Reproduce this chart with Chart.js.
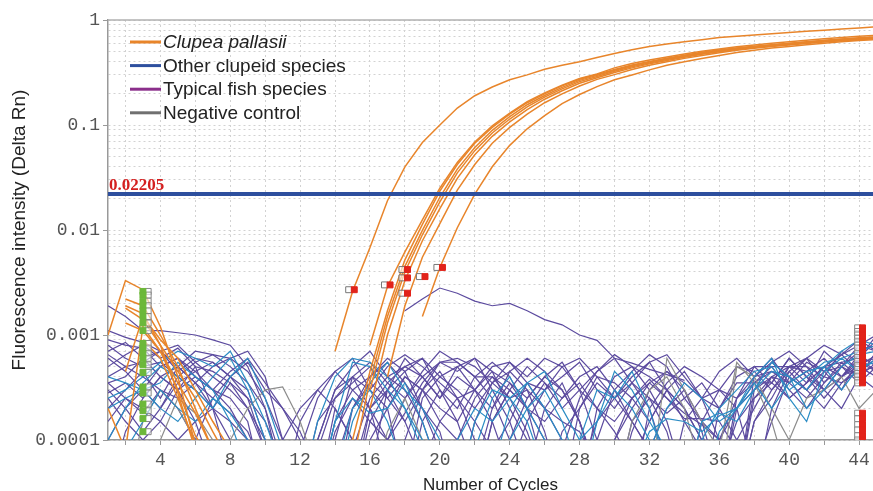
<!DOCTYPE html>
<html lang="en">
<head>
  <meta charset="UTF-8">
  <title>Amplification plot - Clupea pallasii assay</title>
  <script src="https://cdn.jsdelivr.net/npm/chart.js@4.4.1/dist/chart.umd.min.js"></script>
  <style>
    html, body { margin: 0; padding: 0; background: #fff; }
    #wrap { width: 873px; height: 491px; }
  </style>
</head>
<body>
  <div id="wrap"><canvas id="ampChart"></canvas></div>

  <script>
    // cycle numbers and axis ticks
    const cycles = [1, 2, 3, 4, 5, 6, 7, 8, 9, 10, 11, 12, 13, 14, 15, 16, 17, 18, 19, 20,
      21, 22, 23, 24, 25, 26, 27, 28, 29, 30, 31, 32, 33, 34, 35, 36, 37, 38, 39, 40,
      41, 42, 43, 44, 45];
    const xTickValues = [4, 8, 12, 16, 20, 24, 28, 32, 36, 40, 44];
    const yTickValues = [0.0001, 0.001, 0.01, 0.1, 1];
    const yTickLabels = ['0.0001', '0.001', '0.01', '0.1', '1'];
    const threshold = 0.02205;
    const legendLabels = ['Clupea pallasii', 'Other clupeid species', 'Typical fish species', 'Negative control'];

    // Clupea pallasii amplification curves (Delta Rn per cycle, null = not shown)
    const pallasii1 = [0.001, 0.0033, 0.0027, 0.0012, 0.0004, 0.00009,
      null, null, null, null, null, null, null,
      0.0007, 0.0026, 0.0068, 0.019, 0.040, 0.068, 0.10, 0.145, 0.19, 0.23, 0.27, 0.30, 0.34, 0.37, 0.40, 0.44,
      0.48, 0.52, 0.56, 0.59, 0.62, 0.65, 0.68, 0.70, 0.72, 0.74, 0.76, 0.78, 0.80, 0.82, 0.84, 0.86];
    const pallasii2 = [null, 0.0022, 0.0019, 0.001, 0.0005, 0.0002, 0.00008,
      null, null, null, null, null, null, null, null,
      0.0008, 0.0029, 0.0062, 0.0125, 0.025, 0.044, 0.069, 0.098, 0.13, 0.167, 0.202, 0.24, 0.277, 0.307,
      0.35, 0.385, 0.415, 0.445, 0.475, 0.505, 0.53, 0.555, 0.578, 0.60, 0.622, 0.642, 0.662, 0.682, 0.70, 0.715];
    const pallasii3 = [null, 0.0019, 0.0016, 0.0008, 0.00045, 0.00025, 0.00012, 0.00006,
      null, null, null, null, null, null,
      0.0001, 0.00045, 0.0017, 0.0052, 0.0113, 0.0235, 0.042, 0.067, 0.095, 0.127, 0.163, 0.198, 0.236, 0.273, 0.303,
      0.338, 0.373, 0.403, 0.433, 0.463, 0.492, 0.517, 0.542, 0.562, 0.582, 0.602, 0.622, 0.642, 0.661, 0.676, 0.69];
    const pallasii4 = [null, 0.00045, 0.0015, 0.0009, 0.0006, 0.0003, 0.00015, 0.00008,
      null, null, null, null, null, null,
      0.00006, 0.00037, 0.0015, 0.0045, 0.0099, 0.0205, 0.038, 0.061, 0.089, 0.12, 0.156, 0.191, 0.228, 0.266, 0.297,
      0.332, 0.366, 0.397, 0.427, 0.457, 0.486, 0.512, 0.537, 0.557, 0.577, 0.597, 0.617, 0.636, 0.655, 0.67, 0.684];
    const pallasii5 = [0.0002, 0.00008, 0.0012, 0.0007, 0.00035, 0.00018, 0.00008,
      null, null, null, null, null, null, null, null,
      0.0003, 0.0013, 0.004, 0.009, 0.0185, 0.035, 0.057, 0.084, 0.114, 0.149, 0.184, 0.221, 0.259, 0.29,
      0.325, 0.359, 0.39, 0.42, 0.45, 0.479, 0.506, 0.531, 0.552, 0.572, 0.592, 0.612, 0.63, 0.648, 0.664, 0.678];
    const pallasii6 = [null, 0.0013, 0.0011, 0.0007, 0.0003, 0.00011, 0.00006,
      null, null, null, null, null, null, null, null,
      0.0002, 0.001, 0.0033, 0.0079, 0.016, 0.031, 0.052, 0.078, 0.107, 0.14, 0.176, 0.212, 0.25, 0.282,
      0.316, 0.35, 0.382, 0.412, 0.442, 0.471, 0.499, 0.524, 0.546, 0.566, 0.586, 0.606, 0.624, 0.642, 0.658, 0.672];
    const pallasii7 = [null, null, 0.0009, 0.0006, 0.00025, 0.00009,
      null, null, null, null, null, null, null, null, null, null,
      0.0004, 0.0019, 0.0055, 0.0115, 0.024, 0.042, 0.067, 0.095, 0.127, 0.163, 0.198, 0.235, 0.272,
      0.302, 0.337, 0.371, 0.401, 0.431, 0.46, 0.488, 0.514, 0.538, 0.558, 0.578, 0.598, 0.616, 0.634, 0.65, 0.664];
    const pallasii8 = [null, 0.0018, 0.0014, 0.0008, 0.00028, 0.00008,
      null, null, null, null, null, null, null, null, null, null, null, null,
      0.0015, 0.0044, 0.0105, 0.022, 0.040, 0.064, 0.092, 0.123, 0.16, 0.195, 0.232,
      0.27, 0.30, 0.335, 0.37, 0.40, 0.43, 0.46, 0.49, 0.515, 0.54, 0.56, 0.58, 0.60, 0.62, 0.638, 0.652];

    // typical fish species (no amplification, noise around baseline)
    const fish1 = [9e-4, 8e-4, 7.5e-4, 5e-4, 6e-4, 4e-4, 3e-4, 2.5e-4, 1.5e-4, 3e-5, 3e-5, 1.5e-4, 3e-4, 4.5e-4, 6e-4,
      3e-4, 2e-4, 4e-5, 2.5e-4, 4e-4, 5e-4, 3e-4, 2e-4, 4.5e-4, 3e-4, 1.2e-4, 3e-5, 3e-5, 2e-4, 4e-4,
      5e-4, 3e-4, 1.5e-4, 4e-5, 3e-5, 2e-4, 4e-4, 5e-4, 3.5e-4, 6e-4, 4e-4, 3e-4, 5e-4, 7e-4, 8e-4];
    const fish2 = [5e-4, 6.5e-4, 8e-4, 6e-4, 7.5e-4, 5e-4, 2e-4, 5e-5, 3e-5, 3e-5, 3e-5, 3e-5, 1e-4, 3e-4, 5e-4,
      7e-4, 4e-4, 5e-4, 6e-4, 3e-4, 1.5e-4, 5e-5, 2e-4, 3.5e-4, 2.5e-4, 4e-4, 5.5e-4, 3e-4, 1e-4, 3e-5,
      1.5e-4, 2.5e-4, 1.2e-4, 3e-5, 3e-5, 3e-5, 2e-4, 3e-4, 4e-4, 2.5e-4, 3.5e-4, 5e-4, 4e-4, 6e-4, 1e-3];
    const fish3 = [3.5e-4, 4e-4, 6e-4, 7e-4, 4.5e-4, 6e-4, 5.5e-4, 4e-4, 3e-4, 1e-4, 3e-5, 3e-5, 3e-5, 2e-4, 1e-4,
      5e-5, 3e-4, 6e-4, 4e-4, 2.5e-4, 5e-4, 6e-4, 4.5e-4, 2e-4, 1e-4, 3e-5, 8e-5, 2.5e-4, 4.5e-4, 6e-4,
      3.5e-4, 2e-4, 6e-5, 3e-5, 1.5e-4, 3e-4, 2e-4, 5e-5, 1.5e-4, 4e-4, 6e-4, 8e-4, 6.5e-4, 9e-4, 7e-4];
    const fish4 = [1.9e-3, 1.5e-3, 1.1e-3, 1.1e-3, 1.05e-3, 1e-3, 9e-4, 8e-4, 5e-4, 2e-4, 4e-5, 3e-5, 1e-4, 3e-4, 4e-4,
      2e-4, 5e-5, 3e-5, 1.5e-4, 3e-4, 2e-4, 4e-4, 5.5e-4, 4e-4, 2e-4, 5e-5, 3e-5, 3e-5, 1e-4, 3e-4,
      4.5e-4, 6.5e-4, 5e-4, 2.5e-4, 1.5e-4, 4e-5, 3e-5, 4e-4, 4.5e-4, 4e-4, 3e-4, 5e-4, 5.5e-4, 6e-4, 4.5e-4];
    const fish5 = [6e-4, 4.5e-4, 3e-4, 2e-4, 4e-4, 5.5e-4, 6.5e-4, 5e-4, 3.5e-4, 2e-4, 6e-5, 3e-5, 3e-5, 3e-5, 2e-4,
      4e-4, 5.5e-4, 3.5e-4, 2e-4, 1.2e-4, 3e-5, 3e-5, 1.5e-4, 3e-4, 5e-4, 3.5e-4, 2e-4, 3e-4, 4.5e-4, 6.5e-4,
      5e-4, 4e-4, 3e-4, 2e-4, 1e-4, 3e-5, 2.5e-4, 4e-4, 6e-4, 3.5e-4, 2.5e-4, 4e-4, 7e-4, 5.5e-4, 6e-4];
    const fish6 = [2e-4, 3e-4, 4.5e-4, 2.5e-4, 5e-4, 7e-4, 6.5e-4, 6e-4, 7e-4, 4e-4, 1e-4, 3e-5, 8e-5, 2.5e-4, 3.5e-4,
      5e-4, 2.5e-4, 1.5e-4, 3e-4, 5.5e-4, 4.5e-4, 6e-4, 3e-4, 1.5e-4, 5e-5, 2e-4, 3.5e-4, 1.5e-4, 4e-5, 3e-5,
      1.2e-4, 3e-4, 4.5e-4, 3.5e-4, 2.5e-4, 3e-4, 5e-4, 4.5e-4, 3e-4, 4.5e-4, 6e-4, 3.5e-4, 5e-4, 8e-4, 7e-4];
    const fish7 = [7e-4, 8.5e-4, 6e-4, 4e-4, 3e-4, 1.5e-4, 5e-5, 3e-5, 3e-5, 3e-5, 3e-5, 8e-5, 2.5e-4, 4.5e-4, 3e-4,
      4e-4, 6e-4, 4.5e-4, 2e-4, 8e-5, 3e-5, 1.5e-4, 3.5e-4, 5.5e-4, 4e-4, 6e-4, 5e-4, 3e-4, 2e-4, 1.2e-4,
      6e-5, 3e-5, 3e-5, 1.5e-4, 2.5e-4, 4.5e-4, 6e-4, 4e-4, 5.5e-4, 4e-4, 3e-4, 4.5e-4, 5e-4, 3.5e-4, 5e-4];
    const fish8 = [1e-4, 2e-4, 3e-4, 5e-4, 6e-4, 4.5e-4, 3e-4, 2e-4, 1e-4, 4e-5, 3e-5, 3e-5, 3e-5, 1e-4, 4e-4,
      5.5e-4, 3.5e-4, 2.5e-4, 4.5e-4, 7e-4, 5.5e-4, 4e-4, 2.5e-4, 1e-4, 3e-5, 3e-5, 1.2e-4, 2e-4, 3.5e-4, 2.5e-4,
      4e-4, 5.5e-4, 3e-4, 1.5e-4, 8e-5, 3e-5, 3e-5, 3e-4, 5.5e-4, 7e-4, 5e-4, 3e-4, 2e-4, 4e-4, 5.5e-4];
    const fish9 = [4e-4, 5e-4, 4e-4, 3e-4, 2e-4, 1e-4, 2.5e-4, 4e-4, 5.5e-4, 3e-4, 2e-4, 1e-4, 5e-5, 3e-5, 3e-5,
      1.5e-4, 3e-4, 4.5e-4, 6e-4, 4e-4, 3e-4, 2e-4, 3.5e-4, 4.5e-4, 6e-4, 4.5e-4, 3e-4, 1.5e-4, 5e-5, 3e-5,
      6e-5, 1.5e-4, 3e-4, 4.5e-4, 2.5e-4, 1e-4, 3e-5, 1.5e-4, 3e-4, 5e-4, 4.5e-4, 6e-4, 4e-4, 5e-4, 6.5e-4];
    const fish10 = [3e-5, 1.2e-4, 2.5e-4, 4e-4, 3e-4, 5e-4, 4.5e-4, 3.5e-4, 2.5e-4, 1.5e-4, 6e-5, 3e-5, 3e-5, 3e-5, 5e-5,
      2e-4, 3.5e-4, 5e-4, 4e-4, 2.5e-4, 4e-4, 3e-4, 1.5e-4, 5e-5, 1.5e-4, 3e-4, 4e-4, 5.5e-4, 3e-4, 2e-4,
      3.5e-4, 2.5e-4, 1.8e-4, 2.5e-4, 3.5e-4, 2e-4, 1e-4, 2e-4, 4e-4, 3.5e-4, 5.5e-4, 4.5e-4, 3e-4, 6e-4, 9e-4];
    const fish11 = [3e-4, 2e-4, 1.2e-4, 2e-4, 3.5e-4, 4.5e-4, 5.5e-4, 4e-4, 2.5e-4, 8e-5, 3e-5, 3e-5, 3e-5, 1.5e-4, 3e-4,
      2e-4, 1e-4, 2.5e-4, 4e-4, 5.5e-4, 5.5e-4, 4e-4, 4e-4, 3e-4, 2e-4, 1e-4, 5e-5, 3e-5, 3e-5, 1e-4,
      2.5e-4, 3.5e-4, 4.5e-4, 3e-4, 1.5e-4, 1e-4, 2.5e-4, 5e-4, 5e-4, 5e-4, 5e-4, 4e-4, 3.5e-4, 4.5e-4, 5e-4];
    const fish12 = [8e-4, 6e-4, 5e-4, 5.5e-4, 4e-4, 3e-4, 2e-4, 1.5e-4, 1e-4, 5e-5, 1e-4, 2e-4, 3e-4, 2e-4, 1e-4,
      3e-5, 3e-5, 1e-4, 3e-4, 2e-4, 1.5e-4, 3e-4, 4.5e-4, 3.5e-4, 2e-4, 1.5e-4, 2.5e-4, 3.5e-4, 2e-4, 1.5e-4,
      2.5e-4, 3.8e-4, 2.5e-4, 1.6e-4, 1.6e-4, 1.5e-4, 8e-5, 3e-5, 2e-4, 4.5e-4, 3e-4, 2e-4, 3.5e-4, 5e-4, 4e-4];
    const fish13 = [1.5e-4, 2.5e-4, 1.8e-4, 3e-4, 2.5e-4, 3.5e-4, 2e-4, 1e-4, 4e-5, 3e-5, 3e-5, 3e-5, 3e-5, 3e-5, 8e-5,
      2.5e-4, 4e-4, 3e-4, 1.5e-4, 5e-5, 3e-5, 3e-5, 1.5e-4, 3e-4, 2e-4, 3.5e-4, 2.5e-4, 4e-4, 5e-4, 3e-4,
      1.5e-4, 8e-5, 2e-4, 3e-4, 1.2e-4, 3e-5, 3e-5, 2.5e-4, 4e-4, 5e-4, 6e-4, 4.5e-4, 6.5e-4, 8e-4, 1e-3];
    const fish14 = [2.5e-4, 1.5e-4, 1e-4, 1.5e-4, 3e-4, 4e-4, 3e-4, 4.5e-4, 6e-4, 3.5e-4, 2e-4, 1.2e-4, 5e-5, 3e-5, 3e-5,
      1e-4, 2e-4, 4e-4, 3e-4, 4.5e-4, 2.5e-4, 1e-4, 5e-5, 1e-4, 2.5e-4, 4e-4, 3e-4, 1.5e-4, 5e-5, 3e-5,
      3e-5, 2e-4, 3.5e-4, 5e-4, 4e-4, 3e-4, 2.5e-4, 3.5e-4, 5e-4, 3e-4, 2e-4, 3.5e-4, 5.5e-4, 4e-4, 3e-4];
    const fish15 = [6.5e-4, 5e-4, 5.5e-4, 7e-4, 8e-4, 5.5e-4, 4e-4, 3e-4, 2e-4, 1e-4, 4e-5, 3e-5, 1.5e-4, 2.5e-4, 4e-4,
      3e-4, 5e-4, 6.5e-4, 5e-4, 3.5e-4, 2.5e-4, 3e-4, 5e-4, 5.5e-4, 3.5e-4, 2e-4, 1e-4, 5e-5, 1.5e-4, 2.5e-4,
      3.5e-4, 5.5e-4, 6.5e-4, 4e-4, 2.5e-4, 2e-4, 3.5e-4, 3.5e-4, 3.5e-4, 6e-4, 4e-4, 2.5e-4, 4e-4, 6.5e-4, 5e-4];
    const fish16 = [2.8e-4, 3.5e-4, 2.5e-4, 4e-4, 5e-4, 3.5e-4, 5e-4, 6e-4, 4.5e-4, 2.5e-4, 1e-4, 3e-5, 3e-5, 6e-5, 2e-4,
      3.5e-4, 2.5e-4, 4e-4, 3e-4, 1.5e-4, 1e-4, 2.5e-4, 4e-4, 2.5e-4, 1.2e-4, 4e-5, 3e-5, 2e-4, 4e-4, 3.5e-4,
      2.5e-4, 1.5e-4, 3e-4, 2e-4, 1e-4, 5e-5, 1.5e-4, 2.5e-4, 3.5e-4, 2.5e-4, 3.5e-4, 7e-4, 5e-4, 4e-4, 7e-4];
    const fish17 = [1.1e-3, 9.5e-4, 8.5e-4, 7e-4, 5e-4, 3.5e-4, 2.5e-4, 1.8e-4, 1.2e-4, 5e-5, 3e-5, 3e-5, 3e-5, 1.2e-4, 2.5e-4,
      1.5e-4, 1e-4, 1.8e-4, 3.5e-4, 5.5e-4, 6e-4, 5e-4, 3.5e-4, 2.5e-4, 3e-4, 2e-4, 1.5e-4, 1.2e-4, 6e-5, 1e-4,
      2e-4, 3.5e-4, 2.5e-4, 1.8e-4, 1.4e-4, 1e-4, 2e-4, 3.5e-4, 4.5e-4, 3.5e-4, 4.5e-4, 3e-4, 4e-4, 5.5e-4, 4.5e-4];
    const fish18 = [3.5e-4, 2.5e-4, 2e-4, 1.5e-4, 1e-4, 1.5e-4, 2e-4, 3.5e-4, 2e-4, 8e-5, 3e-5, 3e-5, 3e-5, 3e-5, 3e-5,
      2e-4, 3e-4, 1.5e-4, 6e-5, 1.5e-4, 2.5e-4, 1.5e-4, 8e-5, 1.5e-4, 3.5e-4, 3e-4, 5e-4, 6e-4, 4e-4, 2.5e-4,
      1.5e-4, 8e-5, 4e-5, 3e-5, 3e-5, 3e-5, 3e-5, 1.5e-4, 2.5e-4, 5e-4, 3.5e-4, 5e-4, 6.5e-4, 4.5e-4, 6e-4];
    const fishDrift = [null, null, null, null, null, null, null, null, null, null, null, null, null, null, null, null, null,
      0.0017, 0.0022, 0.0028, 0.0025, 0.0021, 0.0019, 0.002, 0.0017, 0.0014, 0.00125, 0.001, 0.00089, 0.0006,
      0.00054, 0.00047, 0.00042, 0.00037];

    // other clupeid species
    const clupeid1 = [2.5e-4, 3e-4, 4e-4, 5.5e-4, 7e-4, 6e-4, 5e-4, 7e-4, 3.5e-4, 1.5e-4, 5e-5, 3e-5, 1.5e-4, 4e-4, 6e-4,
      5.5e-4, 4e-4, 2e-4, 1e-4, 3e-5, 3e-5, 1.5e-4, 3e-4, 2.5e-4, 1.5e-4, 5e-5, 3e-5, 1e-4, 3e-4, 2.5e-4,
      4.5e-4, 2e-4, 5e-5, 3e-5, 1e-4, 2e-4, 3e-4, 4.5e-4, 5e-4, 3e-4, 4e-4, 5.5e-4, 6e-4, 7e-4, 8e-4];
    const clupeid2 = [1e-4, 2e-4, 3.5e-4, 5e-4, 4e-4, 3e-4, 2e-4, 4e-4, 6e-4, 2.5e-4, 8e-5, 3e-5, 3e-5, 1.5e-4, 2.5e-4,
      1.8e-4, 2e-4, 3.5e-4, 1.5e-4, 5e-5, 3e-5, 3e-5, 5e-5, 2e-4, 3.5e-4, 4.5e-4, 2e-4, 1e-4, 1.5e-4, 3e-4,
      2e-4, 1e-4, 3e-5, 3e-5, 1.5e-4, 1.8e-4, 1.5e-4, 3e-4, 5.5e-4, 4e-4, 2e-4, 3e-4, 5e-4, 6.5e-4, 7e-4];
    const clupeid3 = [3e-5, 8e-5, 1.5e-4, 3e-4, 2e-4, 1.5e-4, 2.5e-4, 1.8e-4, 1e-4, 3e-5, 3e-5, 3e-5, 3e-5, 3e-5, 1.5e-4,
      3.5e-4, 5.5e-4, 3e-4, 2e-4, 1e-4, 5e-5, 3e-5, 3e-5, 1e-4, 2e-4, 3e-4, 1.5e-4, 5e-5, 3e-5, 3e-5,
      3e-5, 8e-5, 2e-4, 3.5e-4, 2.5e-4, 1.5e-4, 2e-4, 4e-4, 6e-4, 2.5e-4, 1.5e-4, 4.5e-4, 6e-4, 4.5e-4, 6e-4];
    const clupeid4 = [4e-4, 3.5e-4, 3e-4, 2e-4, 1.5e-4, 2.5e-4, 4e-4, 6e-4, 3e-4, 1e-4, 3e-5, 3e-5, 3e-5, 5e-5, 2e-4,
      3e-4, 1.5e-4, 5e-5, 3e-5, 3e-5, 1e-4, 2e-4, 1.5e-4, 2.5e-4, 3.5e-4, 2e-4, 1e-4, 3e-5, 3e-5, 3e-5,
      5e-5, 1.2e-4, 1.6e-4, 1.5e-4, 1.2e-4, 1.7e-4, 2e-4, 3.5e-4, 2e-4, 3.5e-4, 4.5e-4, 5e-4, 3e-4, 5e-4, 5.5e-4];
    const clupeid5 = [2e-4, 2.5e-4, 3e-4, 3.5e-4, 5.5e-4, 4e-4, 3e-4, 1.5e-4, 5e-5, 3e-5, 3e-5, 3e-5, 3e-5, 1.5e-4, 5.5e-4,
      5e-4, 3e-4, 2e-4, 8e-5, 3e-5, 3e-5, 8e-5, 2.5e-4, 4e-4, 2e-4, 1e-4, 4e-5, 3e-5, 1.5e-4, 4.5e-4,
      3e-4, 1.5e-4, 8e-5, 3e-5, 3e-5, 1.2e-4, 2e-4, 3e-4, 4.5e-4, 4e-4, 3e-4, 5e-4, 7e-4, 9e-4, 8e-4];

    // negative controls
    const negative1 = [3e-5, 3e-5, 1.5e-4, 3e-4, 2e-4, 1e-4, 5e-5, 1e-4, 2e-4, 3e-4, 3.2e-4, 1.5e-4, 5e-5, 3e-5, 3e-5,
      3e-5, 1.2e-4, 2.5e-4, 1e-4, 3e-5, 3e-5, 3e-5, 3e-5, 3e-5, 3e-5, 3e-5, 3e-5, 3e-5, 3e-5, 3e-5,
      1.5e-4, 3e-4, 4e-4, 2e-4, 5e-5, 3e-5, 5e-4, 4e-4, 2e-4, 1e-4, 2.5e-4, 3e-4, 4e-4, 2e-4, 3e-4];
    const negative2 = [3e-5, 3e-5, 3e-5, 1e-4, 2.5e-4, 1.8e-4, 1e-4, 5e-5, 3e-5, 3e-5, 3e-5, 3e-5, 3e-5, 3e-5, 3e-5,
      3e-5, 3e-5, 3e-5, 3e-5, 3e-5, 3e-5, 3e-5, 3e-5, 3e-5, 3e-5, 3e-5, 3e-5, 3e-5, 3e-5, 3e-5,
      3e-5, 3e-5, 6e-4, 3e-4, 1.5e-4, 8e-5, 5.5e-4, 3.5e-4, 1.5e-4, 4e-5, 3e-5, 3e-5, 3e-5, 3e-5, 3e-5];

    // analysis markers: baseline start (cycle 3), Ct points, baseline end (cycle 44)
    const baselineStartCycle = 3;
    const baselineStartValues = [0.0026, 0.0024, 0.0021, 0.0019, 0.0017, 0.0015, 0.0013, 0.0011, 0.00083, 0.00075,
      0.00067, 0.0006, 0.00052, 0.00044, 0.00032, 0.00028, 0.00022, 0.00019, 0.00016, 0.00012];
    const ctMarkCycles = [15.05, 17.1, 18.1, 18.1, 18.1, 19.1, 20.1];
    const ctMarkValues = [0.0027, 0.003, 0.0042, 0.0035, 0.0025, 0.0036, 0.0044];
    const baselineEndCycle = 44;
    const baselineEndValues = [0.00117, 0.00108, 0.001, 0.00093, 0.00086, 0.0008, 0.00075,
      0.00067, 0.00061, 0.00056, 0.00051, 0.00047, 0.00043, 0.0004, 0.00037, 0.00035,
      0.00018, 0.00016, 0.00014, 0.000125, 0.00011, 0.0001];

    const ORANGE = '#e8852b';
    const INDIGO = '#5c4b9f';
    const TEAL = '#2b8cc4';
    const GREY = '#8c8c8c';
    const THRESH_BLUE = '#2d4f9e';
    const legendColors = [ORANGE, THRESH_BLUE, '#8b2f8b', '#707070'];

    function curve(vals, color, width) {
      return {
        type: 'line',
        data: cycles.map((c, i) => ({ x: c, y: vals[i] === undefined ? null : vals[i] })),
        borderColor: color,
        borderWidth: width,
        pointRadius: 0,
        fill: false,
        tension: 0,
        spanGaps: false
      };
    }

    function marks(xs, ys, fill, stroke, shift) {
      return {
        type: 'scatter',
        data: ys.map((v, i) => ({ x: (Array.isArray(xs) ? xs[i] : xs) + shift, y: v })),
        pointStyle: 'rect',
        pointRadius: 4.2,
        backgroundColor: fill,
        borderColor: stroke,
        borderWidth: 1
      };
    }

    const datasets = [];
    // markers on top
    datasets.push(marks(ctMarkCycles, ctMarkValues, '#e2231a', '#e2231a', 0.05));
    datasets.push(marks(ctMarkCycles, ctMarkValues, 'rgba(255,255,255,0.6)', '#777', -0.27));
    datasets.push(marks(baselineEndCycle, baselineEndValues, '#e2231a', '#e2231a', 0.2));
    datasets.push(marks(baselineEndCycle, baselineEndValues, 'rgba(255,255,255,0.6)', '#888', -0.08));
    datasets.push(marks(baselineStartCycle, baselineStartValues, '#6cb83a', '#6cb83a', 0));
    datasets.push(marks(baselineStartCycle, baselineStartValues, 'rgba(255,255,255,0.6)', '#888', 0.3));
    // threshold
    datasets.push({
      type: 'line',
      data: [{ x: cycles[0], y: threshold }, { x: cycles[cycles.length - 1], y: threshold }],
      borderColor: THRESH_BLUE, borderWidth: 4, pointRadius: 0, fill: false
    });
    [pallasii1, pallasii2, pallasii3, pallasii4, pallasii5, pallasii6, pallasii7, pallasii8]
      .forEach(s => datasets.push(curve(s, ORANGE, 1.5)));
    [clupeid1, clupeid2, clupeid3, clupeid4, clupeid5].forEach(s => datasets.push(curve(s, TEAL, 1.2)));
    [negative1, negative2].forEach(s => datasets.push(curve(s, GREY, 1.2)));
    [fish1, fish2, fish3, fish4, fish5, fish6, fish7, fish8, fish9, fish10, fish11, fish12,
      fish13, fish14, fish15, fish16, fish17, fish18, fishDrift].forEach(s => datasets.push(curve(s, INDIGO, 1.2)));

    const isYMajor = v => yTickValues.some(t => Math.abs(t - v) / t < 1e-6);

    // top frame line, threshold value and the in-plot legend
    const extras = {
      id: 'extras',
      beforeDatasetsDraw(chart) {
        const { ctx, chartArea } = chart;
        ctx.save();
        ctx.strokeStyle = '#b0b0b0';
        ctx.lineWidth = 1.5;
        ctx.beginPath();
        ctx.moveTo(chartArea.left, chartArea.top);
        ctx.lineTo(chartArea.right, chartArea.top);
        ctx.stroke();
        ctx.restore();
      },
      afterDatasetsDraw(chart) {
        const { ctx, chartArea, scales } = chart;
        ctx.save();
        const ty = scales.y.getPixelForValue(threshold);
        ctx.font = 'bold 17px "Liberation Serif", "Times New Roman", serif';
        ctx.fillStyle = '#d42020';
        ctx.textBaseline = 'alphabetic';
        ctx.fillText(String(threshold), chartArea.left + 1, ty - 4);

        ctx.textBaseline = 'middle';
        legendLabels.forEach((label, i) => {
          const y = chartArea.top + 22 + i * 23.6;
          const x = chartArea.left + 22;
          ctx.strokeStyle = legendColors[i];
          ctx.lineWidth = 3;
          ctx.beginPath();
          ctx.moveTo(x, y);
          ctx.lineTo(x + 31, y);
          ctx.stroke();
          ctx.font = (i === 0 ? 'italic ' : '') + '19px "Liberation Sans", Arial, sans-serif';
          ctx.fillStyle = '#222';
          ctx.fillText(label, x + 33, y + 1);
        });
        ctx.restore();
      }
    };

    const monoFont = { family: '"Liberation Mono", "Courier New", monospace', size: 18 };

    new Chart(document.getElementById('ampChart'), {
      type: 'line',
      data: { datasets },
      options: {
        responsive: true,
        maintainAspectRatio: false,
        animation: false,
        events: [],
        layout: { autoPadding: false, padding: { top: 20, right: 0, left: 0, bottom: 0 } },
        plugins: {
          legend: { display: false },
          tooltip: { enabled: false }
        },
        scales: {
          x: {
            type: 'linear',
            min: 1,
            max: 44.8,
            afterFit(scale) {
              scale.height = 51;
              scale.paddingLeft = 0;
              scale.paddingRight = 0;
            },
            afterBuildTicks(scale) {
              const t = [];
              xTickValues.forEach(v => { t.push({ value: v - 2 }); t.push({ value: v }); });
              scale.ticks = t;
            },
            ticks: {
              autoSkip: false,
              maxRotation: 0,
              padding: 4,
              color: '#555',
              font: monoFont,
              callback: v => xTickValues.includes(v) ? String(v) : ''
            },
            grid: { color: '#d2d2d2', lineWidth: 1, tickLength: 5, tickColor: '#999' },
            border: { color: '#999', width: 1.5, dash: [2, 3] },
            title: {
              display: true,
              text: 'Number of Cycles',
              color: '#222',
              font: { family: '"Liberation Sans", Arial, sans-serif', size: 17 },
              padding: { top: 0, bottom: -5 }
            }
          },
          y: {
            type: 'logarithmic',
            min: 0.0001,
            max: 1,
            afterFit(scale) { scale.width = 108; },
            afterBuildTicks(scale) {
              const t = [];
              yTickValues.forEach((v, i) => {
                if (i < yTickValues.length - 1) {
                  for (let m = 1; m < 10; m++) t.push({ value: v * m });
                } else {
                  t.push({ value: v });
                }
              });
              scale.ticks = t;
            },
            ticks: {
              autoSkip: false,
              padding: 3,
              color: '#555',
              font: monoFont,
              callback: v => {
                const i = yTickValues.findIndex(t => Math.abs(t - v) / t < 1e-6);
                return i >= 0 ? yTickLabels[i] : '';
              }
            },
            grid: {
              color: '#d2d2d2',
              lineWidth: 1,
              tickLength: 5,
              tickColor: ctx => (ctx.tick && isYMajor(ctx.tick.value)) ? '#999' : 'rgba(0,0,0,0)'
            },
            border: { color: '#999', width: 1.5, dash: [2, 3] },
            title: {
              display: true,
              text: 'Fluorescence intensity (Delta Rn)',
              color: '#222',
              font: { family: '"Liberation Sans", Arial, sans-serif', size: 19 },
              padding: { top: 8, bottom: 0 }
            }
          }
        }
      },
      plugins: [extras]
    });
  </script>
</body>
</html>
